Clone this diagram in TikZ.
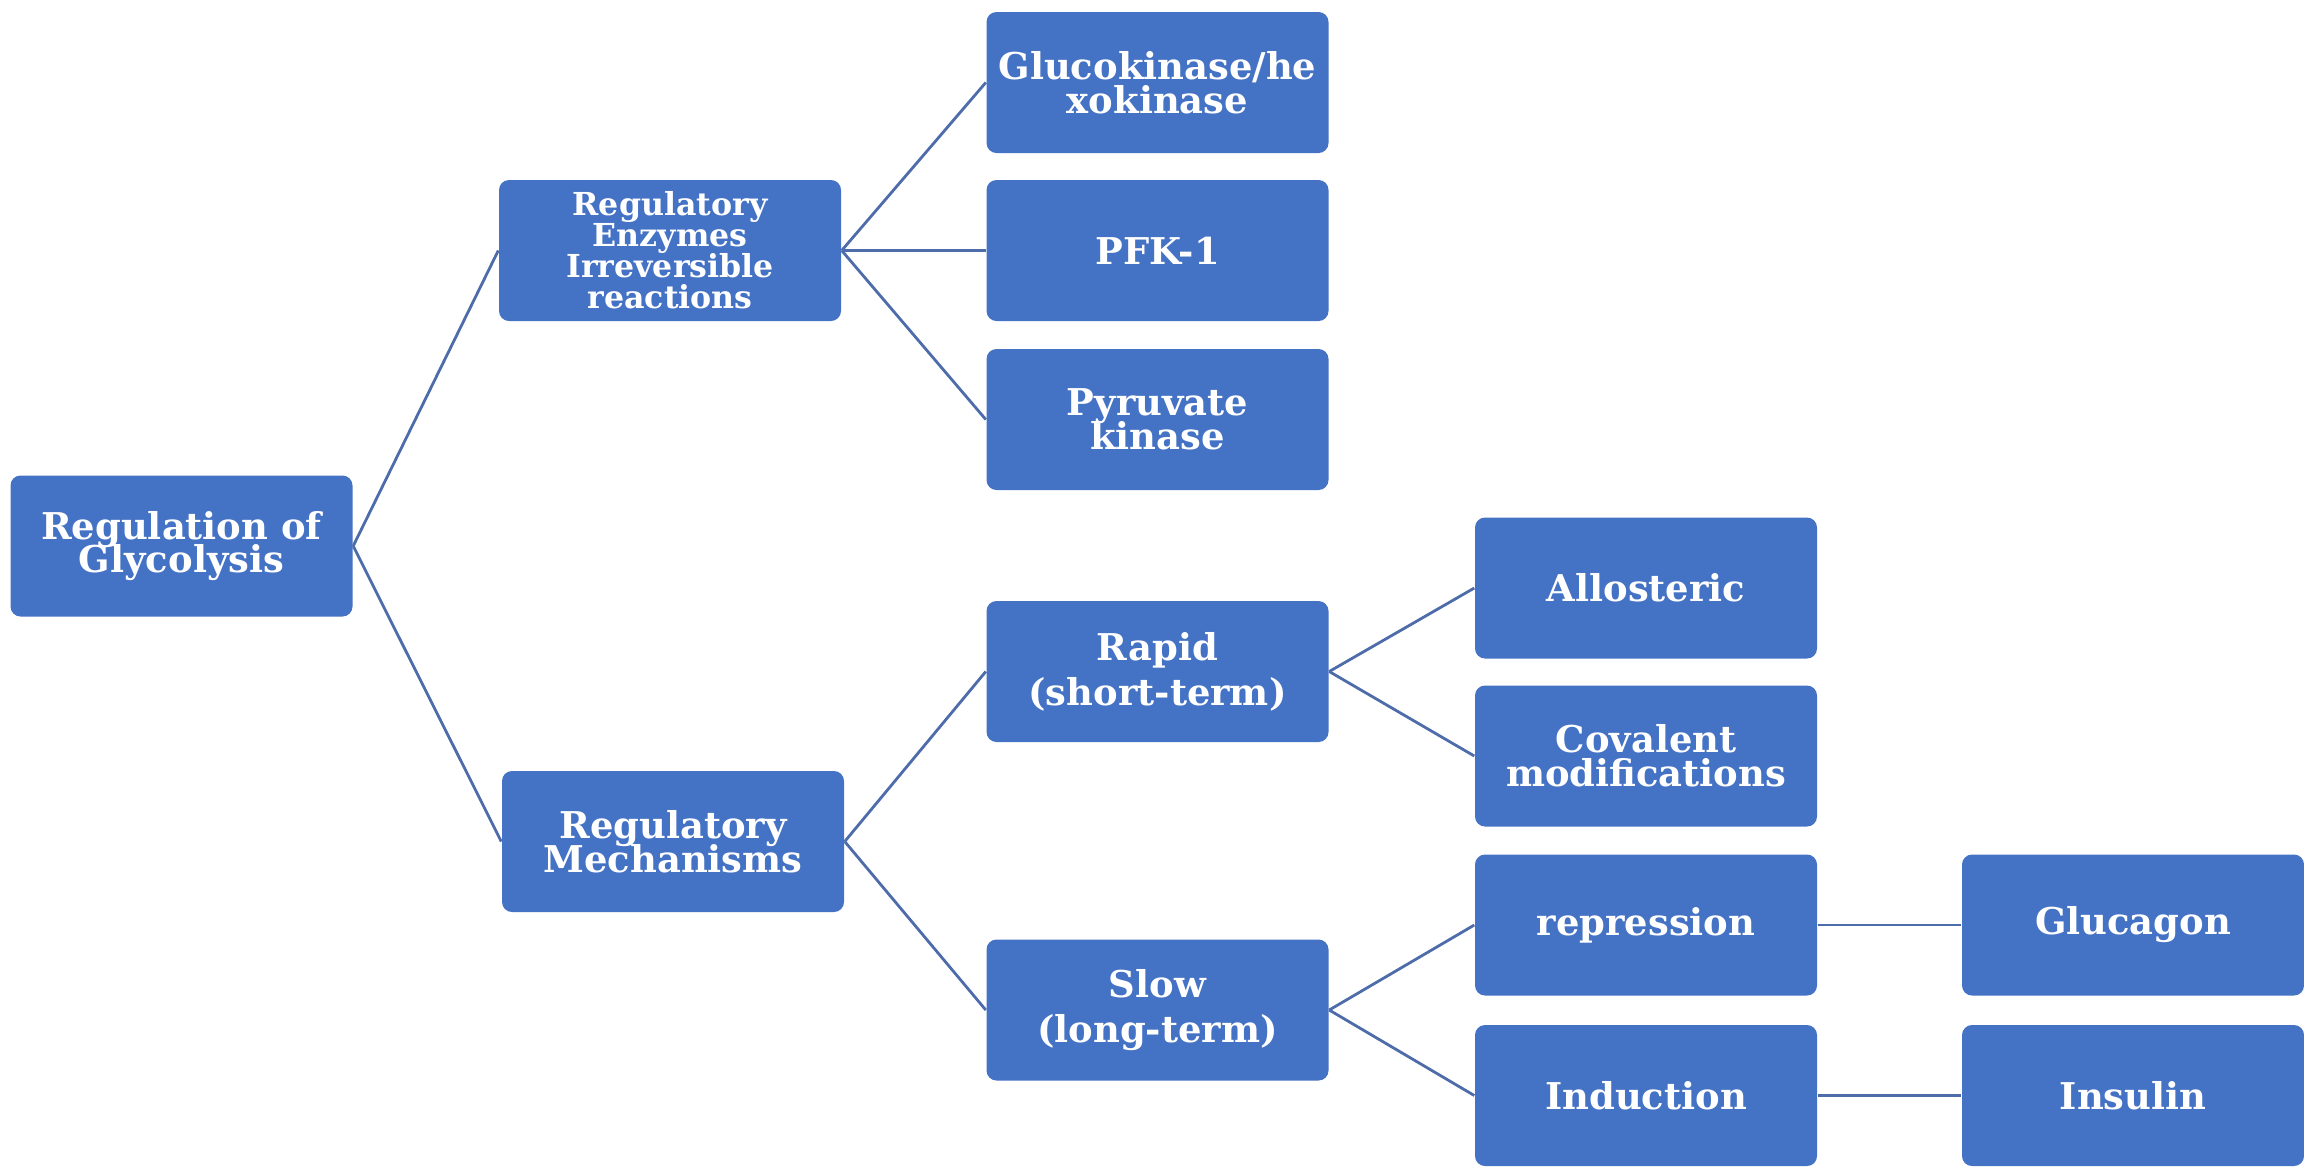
\documentclass[tikz,border=0pt]{standalone}
\usepackage{fontspec}
\setmainfont{DejaVu Serif}
\definecolor{boxblue}{RGB}{68,114,196}
\definecolor{linkblue}{RGB}{78,108,170}
\newcommand{\tightskip}{\lineskiplimit=-20pt\relax}

\begin{document}
\begin{tikzpicture}[link/.style={draw=linkblue, line width=0.8pt},
                    topic/.style={rectangle, fill=boxblue, rounded corners=0.1cm,
                                  minimum width=3.42cm, minimum height=1.41cm,
                                  inner sep=0pt, align=center, text=white,
                                  font=\bfseries\fontsize{10.5}{9.6}\selectfont\tightskip},
                    small/.style={font=\bfseries\fontsize{9}{8.8}\selectfont\tightskip},
                    ]
\useasboundingbox (0,0) rectangle (23.04,-11.68);

% first and second level
\node[topic] (glycolysis) at (1.815,-5.46) {Regulation of\\Glycolysis};
\node[topic, small] (enzymes) at (6.70,-2.505) {Regulatory\\Enzymes\\Irreversible\\reactions};
\node[topic] (mechanisms) at (6.73,-8.415) {Regulatory\\Mechanisms};

% third level
\node[topic] (gluco) at (11.575,-0.825) {Glucokinase/he\\xokinase};
\node[topic] (pfk) at (11.575,-2.505) {PFK-1};
\node[topic] (pyruvate) at (11.575,-4.195) {Pyruvate\\kinase};
\node[topic] (rapid) at (11.575,-6.715) {Rapid\\[3.2pt](short-term)};
\node[topic] (slow) at (11.575,-10.10) {Slow\\[3.2pt](long-term)};

% fourth and fifth level
\node[topic] (allosteric) at (16.46,-5.88) {Allosteric};
\node[topic] (covalent) at (16.46,-7.56) {Covalent\\modifications};
\node[topic] (repression) at (16.46,-9.25) {repression};
\node[topic] (induction) at (16.46,-10.955) {Induction};
\node[topic] (glucagon) at (21.33,-9.25) {Glucagon};
\node[topic] (insulin) at (21.33,-10.955) {Insulin};

\draw[link] (glycolysis.east) -- (enzymes.west);
\draw[link] (glycolysis.east) -- (mechanisms.west);
\foreach \n in {gluco, pfk, pyruvate}
  \draw[link] (enzymes.east) -- (\n.west);
\draw[link] (mechanisms.east) -- (rapid.west);
\draw[link] (mechanisms.east) -- (slow.west);
\draw[link] (rapid.east) -- (allosteric.west);
\draw[link] (rapid.east) -- (covalent.west);
\draw[link] (slow.east) -- (repression.west);
\draw[link] (slow.east) -- (induction.west);
\draw[link] (repression.east) -- (glucagon.west);
\draw[link] (induction.east) -- (insulin.west);
\end{tikzpicture}
\end{document}
